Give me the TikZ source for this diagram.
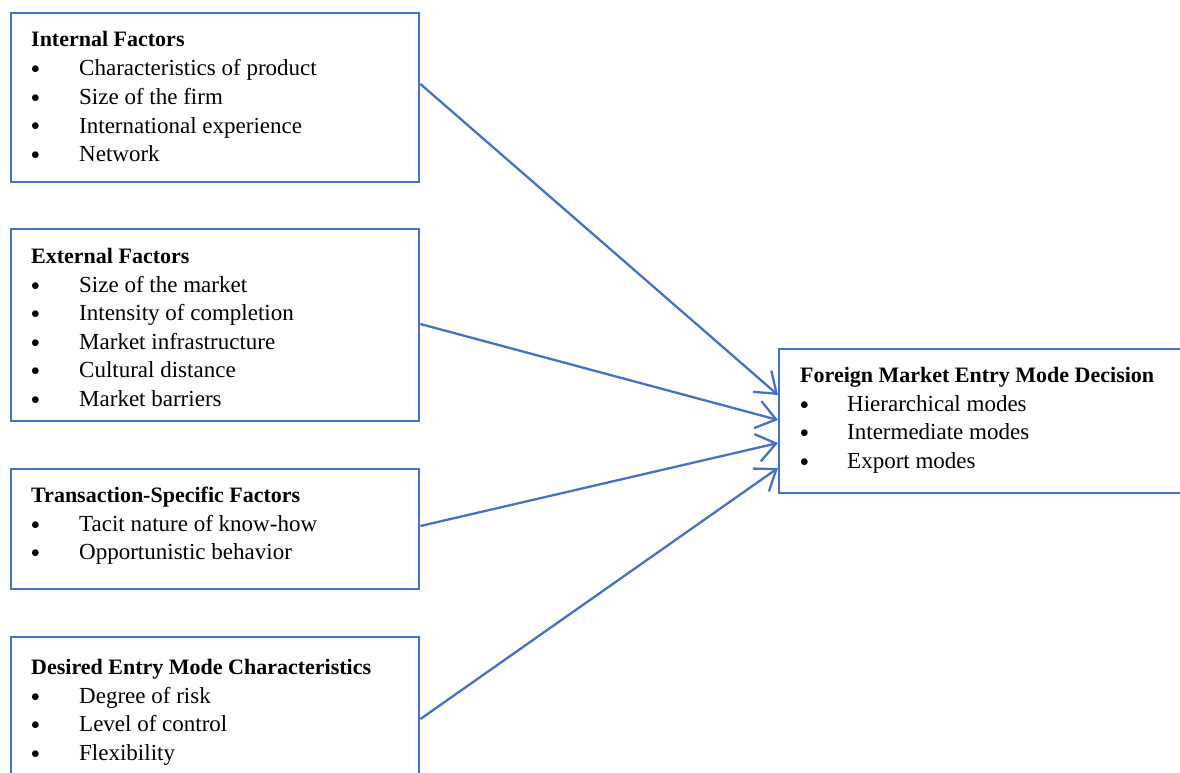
\documentclass[tikz,border=0pt]{standalone}
\usepackage{fontspec}
\setmainfont{Liberation Serif}
\usetikzlibrary{arrows.meta,calc}
\definecolor{wblue}{HTML}{4472C4}
\newcommand{\bul}{\raisebox{2pt}{\fontsize{19}{19}\selectfont$\bullet$}}
\tikzset{
  box/.style={draw=wblue,line width=2.4pt,anchor=north west,inner sep=0pt},
  head/.style={anchor=base west,inner sep=0pt,font=\fontsize{22}{24}\selectfont\bfseries},
  item/.style={anchor=base west,inner sep=0pt,font=\fontsize{23}{26}\selectfont},
  link/.style={draw=wblue,line width=2.3pt,-{Straight Barb[length=19pt,width=28pt,line width=2.3pt]}}
}
\begin{document}
\begin{tikzpicture}[x=1pt,y=-1pt]
\useasboundingbox (0,0) rectangle (1180,773);
\clip (0,0) rectangle (1180,773);
% boxes
\node[box,minimum width=408pt,minimum height=169pt] (b1) at (10,12) {};
\node[box,minimum width=408pt,minimum height=192pt] (b2) at (10,228) {};
\node[box,minimum width=408pt,minimum height=120pt] (b3) at (10,468) {};
\node[box,minimum width=408pt,minimum height=180pt] (b4) at (10,636) {};
\node[box,minimum width=440pt,minimum height=144pt] (b5) at (778,348) {};
% box 1
\node[head] (h1) at (31,47) {Internal Factors};
\foreach \t [count=\i] in {Characteristics of product,Size of the firm,International experience,Network}{
  \node[item] (p1\i) at (31,{47.5+28.5*\i}) {\bul};
  \node[item] (t1\i) at (79,{47.5+28.5*\i}) {\t};
}
% box 2
\node[head] (h2) at (31,263) {External Factors};
\foreach \t [count=\i] in {Size of the market,Intensity of completion,Market infrastructure,Cultural distance,Market barriers}{
  \node[item] (p2\i) at (31,{263.5+28.5*\i}) {\bul};
  \node[item] (t2\i) at (79,{263.5+28.5*\i}) {\t};
}
% box 3
\node[head] (h3) at (31,502) {Transaction-Specific Factors};
\foreach \t [count=\i] in {Tacit nature of know-how,Opportunistic behavior}{
  \node[item] (p3\i) at (31,{502.5+28.5*\i}) {\bul};
  \node[item] (t3\i) at (79,{502.5+28.5*\i}) {\t};
}
% box 4
\node[head] (h4) at (31,674) {Desired Entry Mode Characteristics};
\foreach \t [count=\i] in {Degree of risk,Level of control,Flexibility}{
  \node[item] (p4\i) at (31,{674.5+28.5*\i}) {\bul};
  \node[item] (t4\i) at (79,{674.5+28.5*\i}) {\t};
}
% box 5
\node[head] (h5) at (800,382) {Foreign Market Entry Mode Decision};
\foreach \t [count=\i] in {Hierarchical modes,Intermediate modes,Export modes}{
  \node[item] (p5\i) at (800,{382.5+28.5*\i}) {\bul};
  \node[item] (t5\i) at (847,{382.5+28.5*\i}) {\t};
}
% connectors
\draw[link] ([yshift=-72pt]b1.north east) -- ([yshift=-47pt]b5.north west);
\draw[link] ([yshift=-96pt]b2.north east) -- ([yshift=-72pt]b5.north west);
\draw[link] ([yshift=-58pt]b3.north east) -- ([yshift=-95pt]b5.north west);
\draw[link] ([yshift=-83pt]b4.north east) -- ([yshift=-120pt]b5.north west);
\end{tikzpicture}
\end{document}
